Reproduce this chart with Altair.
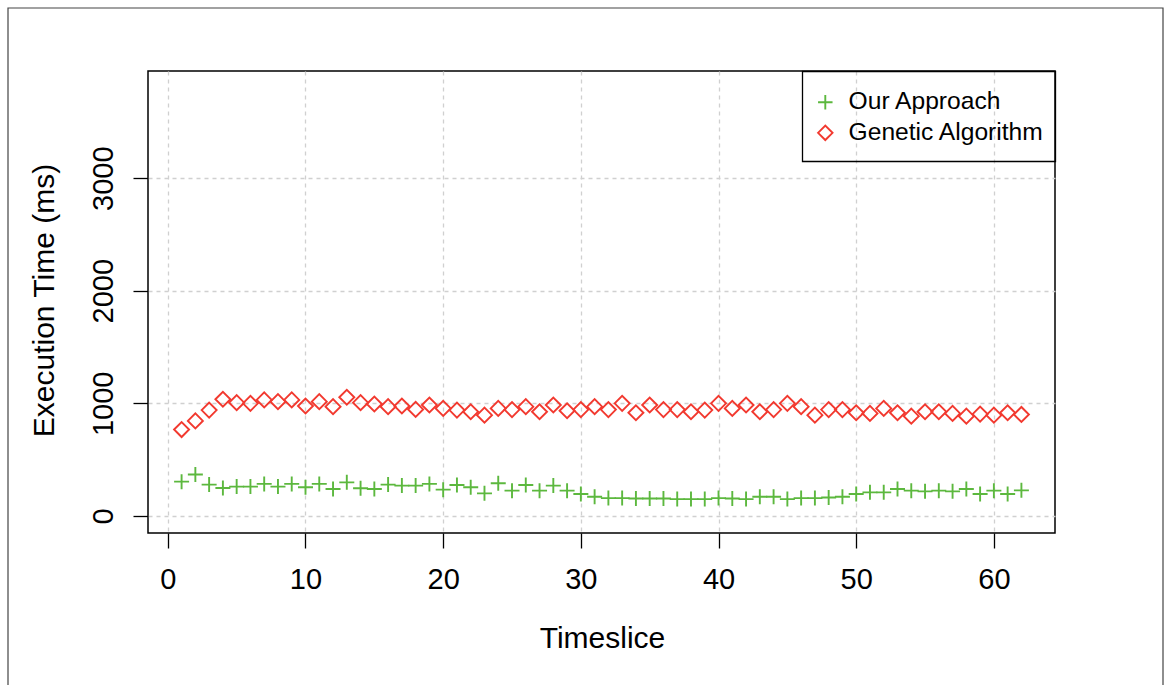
import altair as alt
import pandas as pd

timeslice = list(range(1, 63))
our_approach = [304, 367, 278, 248, 260, 260, 284, 260, 284, 254,
                284, 239, 298, 245, 239, 278, 269, 269, 284, 233,
                275, 254, 200, 290, 224, 275, 224, 269, 224, 194,
                170, 158, 158, 155, 155, 155, 149, 149, 149, 158,
                155, 149, 170, 170, 149, 158, 158, 164, 170, 194,
                209, 209, 239, 224, 218, 224, 218, 239, 194, 224, 194, 227]
genetic = [767, 844, 940, 1036, 1006, 1000, 1030, 1015, 1030, 976,
           1015, 970, 1054, 1006, 994, 970, 976, 946, 985, 955,
           940, 925, 895, 955, 944, 970, 925, 985, 934, 944,
           970, 944, 1000, 916, 985, 944, 944, 925, 940, 1000,
           955, 985, 925, 944, 1000, 970, 895, 944, 944, 916,
           910, 955, 916, 886, 925, 925, 910, 886, 904, 895, 916, 901]
series_names = ["Our Approach", "Genetic Algorithm"]
series_colors = ["#5CB83E", "#F2392F"]
series_shapes = ["M-1,0H1M0,-1V1", "diamond"]
x_ticks = [0, 10, 20, 30, 40, 50, 60]
y_ticks = [0, 1000, 2000, 3000]

df = pd.DataFrame({
    "Timeslice": timeslice * 2,
    "Time": our_approach + genetic,
    "Series": [series_names[0]] * len(our_approach) + [series_names[1]] * len(genetic),
})

FONT = "Liberation Sans"

legend = alt.Legend(title=None, orient="none", legendX=654, legendY=8,
                    symbolSize=210, labelLimit=400)

points = alt.Chart(df).mark_point(filled=False, size=225, strokeWidth=1.9, opacity=1).encode(
    x=alt.X("Timeslice:Q",
            scale=alt.Scale(domain=[-1.44, 64.44], nice=False, zero=False),
            axis=alt.Axis(values=x_ticks, title="Timeslice", labelPadding=17,
                          format="d",
                          titleX=454, titleY=114, titleBaseline="alphabetic",
                          titleAlign="center")),
    y=alt.Y("Time:Q",
            scale=alt.Scale(domain=[-152, 3952], nice=False, zero=False),
            axis=alt.Axis(values=y_ticks, title="Execution Time (ms)", format="d",
                          labelAngle=270, labelAlign="center",
                          labelBaseline="alphabetic", labelPadding=21,
                          titleAngle=270, titleX=-95, titleY=229,
                          titleBaseline="alphabetic", titleAlign="center")),
    color=alt.Color("Series:N", scale=alt.Scale(domain=series_names, range=series_colors),
                    legend=legend),
    shape=alt.Shape("Series:N", scale=alt.Scale(domain=series_names, range=series_shapes),
                    legend=legend),
)

frame = alt.Chart(pd.DataFrame({"a": [0]})).mark_rect(
    fill="white", fillOpacity=0, stroke="#444444", strokeWidth=1.2
).encode(
    x=alt.value(-140), x2=alt.value(1015), y=alt.value(-63), y2=alt.value(650)
)

legend_box = alt.Chart(pd.DataFrame({"a": [0]})).mark_rect(
    fill="white", fillOpacity=0, stroke="black", strokeWidth=1.3
).encode(
    x=alt.value(654.5), x2=alt.value(907.5), y=alt.value(0.5), y2=alt.value(90.5)
)

chart = alt.layer(frame, legend_box, points).properties(
    width=907, height=462, autosize="none",
    padding={"left": 148, "top": 71, "right": 110, "bottom": 152},
).configure_view(
    stroke="black", strokeWidth=1.5
).configure_axis(
    labelFont=FONT, titleFont=FONT, labelFontSize=29, titleFontSize=30,
    titleFontWeight="normal", labelColor="black", titleColor="black",
    tickSize=15, tickColor="black", tickWidth=1.3, domain=False,
    grid=True, gridDash=[4, 4], gridColor="#D0D0D0", gridWidth=1.3,
).configure_legend(
    labelFont=FONT, labelFontSize=24.6, labelColor="black", padding=11,
    labelOffset=11, symbolSize=210, symbolStrokeWidth=1.9, rowPadding=5.5,
    labelLimit=400,
)

chart.save("out.html", embed_options={"renderer": "svg", "actions": False})
